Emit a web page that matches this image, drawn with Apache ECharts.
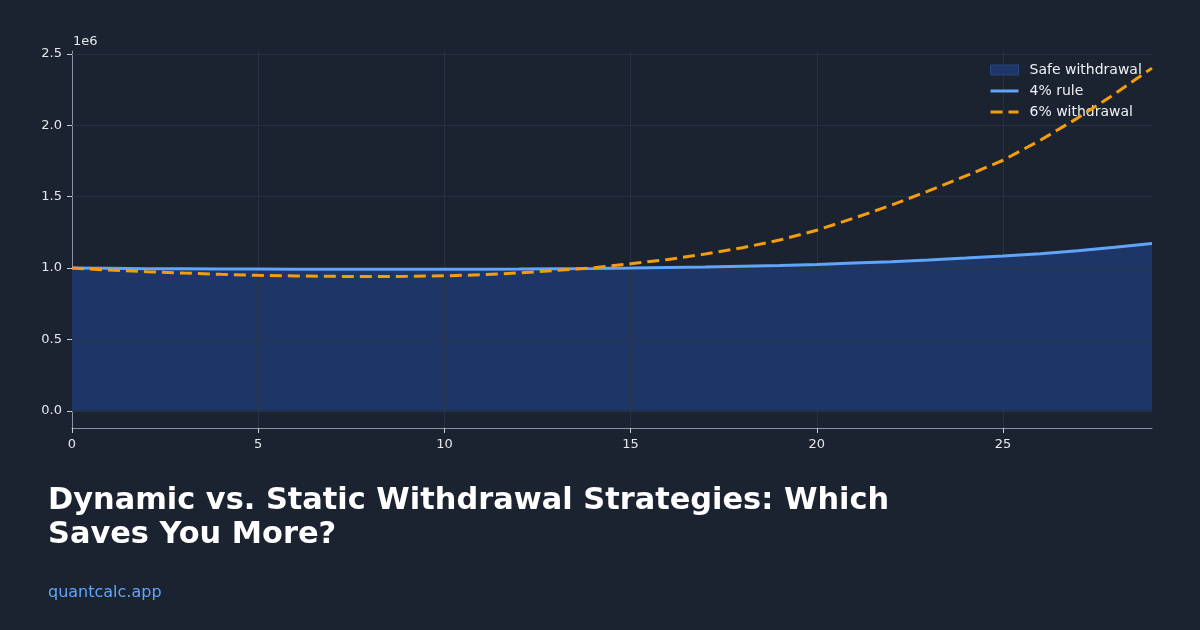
<!DOCTYPE html>
<html>
<head>
<meta charset="utf-8">
<script src="https://cdn.jsdelivr.net/npm/echarts@6/dist/echarts.min.js"></script>
<style>
html,body{margin:0;padding:0;background:#1b2230;}
#chart{width:1200px;height:630px;}
</style>
</head>
<body>
<div id="chart"></div>
<script>
// Years 0..29
const years = [0,1,2,3,4,5,6,7,8,9,10,11,12,13,14,15,16,17,18,19,20,21,22,23,24,25,26,27,28,29];
// 4% rule portfolio balance (dollars)
const rule4 = [1000000,998000,996000,995000,994000,993000,992000,992000,991000,991000,
               991000,992000,993000,995000,997000,1000000,1004000,1008000,1013000,1018000,
               1025000,1035000,1045000,1057000,1070000,1084000,1101000,1121000,1145000,1172000];
// Safe withdrawal band (filled area, same envelope as 4% rule)
const safeBand = rule4.slice();
// 6% withdrawal portfolio balance (dollars)
const withdraw6 = [1000000,986000,975000,965000,956000,949000,945000,942000,941000,942000,
                   946000,953000,966000,983000,1002000,1030000,1060000,1098000,1142000,1196000,
                   1265000,1350000,1440000,1540000,1645000,1755000,1895000,2050000,2220000,2400000];
const xTicks = [0,5,10,15,20,25];
const yTicks = [0,500000,1000000,1500000,2000000,2500000];
const yTickLabels = ['0.0','0.5','1.0','1.5','2.0','2.5'];

const pair = arr => years.map((x,i)=>[x,arr[i]]);
const FONT = 'DejaVu Sans';
const GRID = '#2a3343';
const chart = echarts.init(document.getElementById('chart'));
chart.setOption({
  backgroundColor:'#1b2230',
  animation:false,
  textStyle:{fontFamily:FONT},
  grid:{left:72,right:48,top:51,bottom:202,containLabel:false},
  title:[
    {text:'Dynamic vs. Static Withdrawal Strategies: Which\nSaves You More?',left:43,top:479,
     textStyle:{color:'#ffffff',fontSize:30.4,fontWeight:'bold',fontFamily:FONT,lineHeight:34}},
    {text:'quantcalc.app',left:43,top:580,
     textStyle:{color:'#60a5fa',fontSize:16,fontWeight:'normal',fontFamily:FONT}}
  ],
  graphic:[{type:'text',left:73,top:35,style:{text:'1e6',fill:'#e5e7eb',font:'13px DejaVu Sans'}}],
  legend:{
    orient:'vertical',left:984,top:58,itemWidth:28,itemHeight:10,itemGap:7,
    textStyle:{color:'#eef0f3',fontSize:14,fontFamily:FONT,padding:[0,0,0,6]},
    data:[
      {name:'Safe withdrawal',icon:'rect',itemStyle:{color:'#1d3567',borderColor:'#2a4680',borderWidth:1}},
      {name:'4% rule',itemStyle:{color:'rgba(0,0,0,0)',borderWidth:0,opacity:0},lineStyle:{width:3}},
      {name:'6% withdrawal',itemStyle:{color:'rgba(0,0,0,0)',borderWidth:0,opacity:0},lineStyle:{width:3}}
    ]
  },
  xAxis:{
    type:'value',min:0,max:29,interval:5,
    axisLine:{show:true,onZero:false,lineStyle:{color:'#8a93a3',width:1}},
    axisTick:{show:true,length:5,lineStyle:{color:'#c8cdd5'},customValues:xTicks},
    axisLabel:{color:'#e5e7eb',fontSize:13,margin:10,formatter:v=>(xTicks.indexOf(v)>=0?String(v):'')},
    splitLine:{show:false}
  },
  yAxis:{
    type:'value',min:-120000,max:2520000,splitNumber:5,
    axisLine:{show:true,onZero:false,lineStyle:{color:'#8a93a3',width:1}},
    axisTick:{show:true,length:5,lineStyle:{color:'#c8cdd5'},customValues:yTicks},
    axisLabel:{color:'#e5e7eb',fontSize:13,margin:10,
      formatter:v=>{const i=yTicks.indexOf(v);return i>=0?yTickLabels[i]:'';}},
    splitLine:{show:false}
  },
  series:[
    {name:'Safe withdrawal',type:'line',data:pair(safeBand),symbol:'none',z:1,
     lineStyle:{width:0,color:'#1d3567'},itemStyle:{color:'#1d3567'},
     areaStyle:{color:'#1d3567',opacity:1,origin:0},
     markLine:{silent:true,z:2,symbol:['none','none'],label:{show:false},animation:false,
       lineStyle:{color:GRID,width:1,type:'solid',opacity:0.9},
       data:[...yTicks.map(v=>({yAxis:v})),...xTicks.filter(v=>v>0).map(v=>({xAxis:v}))]}},
    {name:'4% rule',type:'line',data:pair(rule4),symbol:'none',z:10,
     lineStyle:{width:3,color:'#60a5fa'},itemStyle:{color:'#60a5fa'}},
    {name:'6% withdrawal',type:'line',data:pair(withdraw6),symbol:'none',z:11,
     lineStyle:{width:3,color:'#f59e0b',type:[12,6]},itemStyle:{color:'#f59e0b'}}
  ]
});
</script>
</body>
</html>
